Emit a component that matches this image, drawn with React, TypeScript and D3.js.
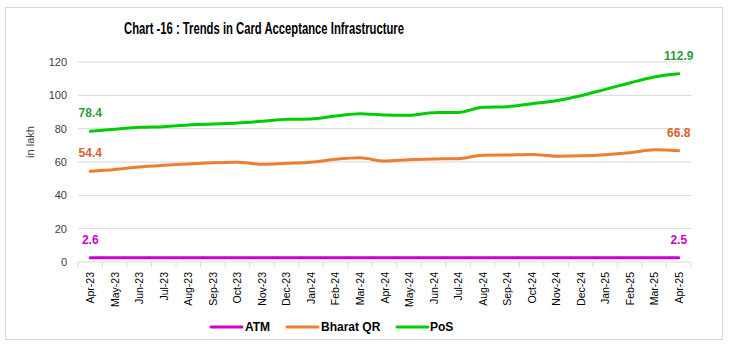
import React from 'react';
import * as d3 from 'd3';

const months = [
	'Apr-23', 'May-23', 'Jun-23', 'Jul-23', 'Aug-23', 'Sep-23', 'Oct-23', 'Nov-23', 'Dec-23',
	'Jan-24', 'Feb-24', 'Mar-24', 'Apr-24', 'May-24', 'Jun-24', 'Jul-24', 'Aug-24', 'Sep-24',
	'Oct-24', 'Nov-24', 'Dec-24', 'Jan-25', 'Feb-25', 'Mar-25', 'Apr-25',
];
const atm = [2.6, 2.6, 2.6, 2.6, 2.6, 2.6, 2.6, 2.6, 2.6, 2.6, 2.6, 2.6, 2.6, 2.6, 2.6, 2.6, 2.5, 2.5, 2.5, 2.5, 2.5, 2.5, 2.5, 2.5, 2.5];
const bharatQr = [54.4, 55.5, 57.0, 58.0, 58.8, 59.6, 59.8, 58.6, 59.2, 59.8, 61.6, 62.5, 60.6, 61.4, 61.8, 62.0, 64.0, 64.2, 64.5, 63.5, 63.7, 64.4, 65.6, 67.3, 66.8];
const pos = [78.4, 79.6, 80.8, 81.2, 82.2, 82.8, 83.4, 84.4, 85.6, 85.8, 87.6, 89.0, 88.2, 88.0, 89.6, 89.7, 92.8, 93.2, 95.0, 96.8, 99.8, 103.6, 107.4, 111.0, 112.9];
const yTicks = [0, 20, 40, 60, 80, 100, 120];

const seriesList = [
	{ name: 'ATM', values: atm, color: '#cc00cc', label: '#cc00cc' },
	{ name: 'Bharat QR', values: bharatQr, color: '#ed7d31', label: '#d8622a' },
	{ name: 'PoS', values: pos, color: '#00cc00', label: '#2f9a3c' },
];

const W = 731;
const H = 364;
const font = "'Liberation Sans', Arial, sans-serif";
const grid = '#d9d9d9';

const App = () => {
	const x = d3.scaleBand<string>().domain(months).range([78, 691]);
	const y = d3.scaleLinear().domain([0, 120]).range([262, 62]);
	const cx = (i: number) => x(months[i])! + x.bandwidth() / 2;
	const line = d3.line<number>().x((d, i) => cx(i)).y(d => y(d)).curve(d3.curveMonotoneX);

	// legend swatch / text positions
	const legend = [
		{ x1: 211, tx: 245 },
		{ x1: 287, tx: 321 },
		{ x1: 397, tx: 430 },
	];

	return (
		<svg width={W} height={H} style={{ position: 'absolute', left: 0, top: 0 }}>
			<rect x={0} y={0} width={W} height={H} fill="#fff" />
			<rect x={5.5} y={7.5} width={717} height={332} fill="#fff" stroke={grid} strokeWidth={1} />

			<text x={264} y={34} textAnchor="middle" fontFamily="'Liberation Sans Narrow', 'Liberation Sans', sans-serif"
				fontWeight="bold" fontSize={16.5} textLength={280} lengthAdjust="spacingAndGlyphs" fill="#000">
				Chart -16 : Trends in Card Acceptance Infrastructure
			</text>

			{yTicks.map(t => (
				<g key={t}>
					{t > 0 && <line x1={78} x2={691} y1={y(t)} y2={y(t)} stroke={grid} strokeWidth={1} />}
					<text x={67} y={y(t) + 4} textAnchor="end" fontFamily={font} fontSize={11} fill="#404040">{t}</text>
				</g>
			))}
			<text transform="translate(34,142) rotate(-90)" textAnchor="middle" fontFamily={font} fontSize={11} fill="#404040">in lakh</text>

			<line x1={78} x2={691} y1={y(0)} y2={y(0)} stroke={grid} strokeWidth={1} />
			{months.map(m => (
				<line key={'t' + m} x1={x(m)!} x2={x(m)!} y1={y(0)} y2={y(0) + 5} stroke={grid} />
			))}
			<line x1={691} x2={691} y1={y(0)} y2={y(0) + 5} stroke={grid} />
			{months.map((m, i) => (
				<text key={m} transform={`translate(${cx(i) + 4},${y(0) + 10}) rotate(-90)`} textAnchor="end"
					fontFamily={font} fontSize={10.5} fill="#000">{m}</text>
			))}

			{seriesList.map(s => (
				<path key={s.name} d={line(s.values)!} fill="none" stroke={s.color} strokeWidth={3} strokeLinecap="round" strokeLinejoin="round" />
			))}

			{seriesList.map(s => [0, s.values.length - 1].map(i => (
				<text key={s.name + i} x={cx(i)} y={y(s.values[i]) - 14} textAnchor="middle" fontFamily={font}
					fontWeight="bold" fontSize={12} fill={s.label}>{s.values[i].toFixed(1)}</text>
			)))}

			{seriesList.map((s, k) => (
				<g key={'lg' + s.name}>
					<line x1={legend[k].x1} x2={legend[k].x1 + 31} y1={327} y2={327} stroke={s.color} strokeWidth={3} strokeLinecap="round" />
					<text x={legend[k].tx} y={331} fontFamily={font} fontWeight="bold" fontSize={12} fill="#000">{s.name}</text>
				</g>
			))}
		</svg>
	);
};

export default App;
